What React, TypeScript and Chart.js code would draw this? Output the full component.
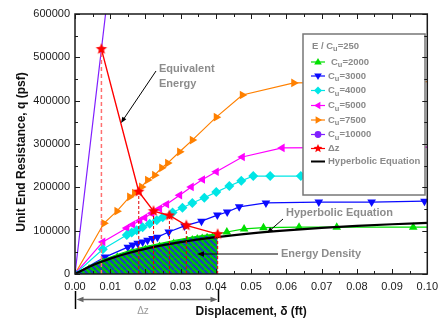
import React, { useEffect, useRef } from "react";
import { Chart, registerables } from "chart.js";

Chart.register(...registerables);

const FONT = '"Liberation Sans", Arial, Helvetica, sans-serif';

// ---------- data ----------
const cu2000X = [0, 0.004, 0.008, 0.012, 0.016, 0.02, 0.024, 0.028, 0.0319, 0.0333, 0.0347, 0.0361, 0.0375, 0.039, 0.0405, 0.0431, 0.048, 0.0535, 0.0636, 0.0743, 0.096, 0.105];
const cu2000Y = [0, 18000, 33000, 45000, 55000, 63000, 70000, 77000, 83000, 85000, 87000, 88500, 90000, 91000, 92000, 97000, 104000, 107000, 108000, 108000, 108000, 108000];

const cu3000X = [0, 0.0085, 0.015, 0.0164, 0.0178, 0.0192, 0.0206, 0.022, 0.0234, 0.0266, 0.0311, 0.0359, 0.0404, 0.0432, 0.0466, 0.0542, 0.0692, 0.0842, 0.0992];
const cu3000Y = [0, 39000, 62000, 67000, 71000, 74000, 78000, 82000, 85000, 97000, 111000, 122000, 136000, 143000, 155000, 164000, 166000, 166000, 168000];

const cu4000X = [0, 0.0079, 0.0147, 0.0161, 0.0175, 0.0192, 0.0212, 0.0232, 0.0249, 0.0277, 0.0305, 0.0333, 0.0367, 0.0401, 0.0438, 0.0472, 0.0506, 0.0554, 0.0641];
const cu4000Y = [0, 57000, 90000, 96000, 101000, 108000, 116000, 124000, 131000, 142000, 153000, 164000, 176000, 189000, 203000, 215000, 226000, 226000, 226000];

const cu5000X = [0, 0.0079, 0.0147, 0.0164, 0.0184, 0.0198, 0.0218, 0.024, 0.026, 0.0297, 0.033, 0.0362, 0.0401, 0.0475, 0.0588, 0.105];
const cu5000Y = [0, 74000, 106000, 114000, 123000, 130000, 140000, 151000, 161000, 182000, 201000, 218000, 236000, 270000, 291000, 293000];

const cu7500X = [0, 0.0082, 0.0119, 0.0155, 0.0169, 0.0189, 0.0206, 0.0226, 0.0246, 0.0263, 0.0297, 0.0333, 0.0401, 0.0475, 0.0621, 0.105];
const cu7500Y = [0, 117000, 145000, 178000, 187000, 201000, 217000, 228000, 245000, 256000, 282000, 309000, 362000, 413000, 441000, 444000];

const cu10000X = [0, 0.0075, 0.012];
const cu10000Y = [0, 519000, 830000];

const dzX = [0.0075, 0.0181, 0.0223, 0.0268, 0.0316, 0.0405];
const dzY = [519000, 190000, 145000, 135000, 112000, 92000];

const hypX = [0, 0.0025, 0.005, 0.0075, 0.01, 0.015, 0.02, 0.025, 0.03, 0.04, 0.05, 0.06, 0.07, 0.08, 0.09, 0.1];
const hypY = [0, 10600, 20000, 28200, 35500, 47900, 58000, 66500, 73600, 85000, 93800, 100700, 106300, 110900, 114800, 118000];

const legendCu = ["2000", "3000", "4000", "5000", "7500", "10000"];
const legendEu = "250";

const xMin = 0, xMax = 0.1, xStep = 0.01;
const yMin = 0, yMax = 600000, yStep = 100000;

// ---------- styles ----------
const C_GREEN = "#00e000";
const C_BLUE = "#0a0aff";
const C_CYAN = "#00e6e6";
const C_MAG = "#ff00ff";
const C_ORANGE = "#ff8000";
const C_PURPLE = "#8020ff";
const C_RED = "#ff0000";

function makeHatch(): CanvasPattern | string {
  const s = 6;
  const c = document.createElement("canvas");
  c.width = s; c.height = s;
  const g = c.getContext("2d")!;
  g.fillStyle = "#00c800";
  g.fillRect(0, 0, s, s);
  g.strokeStyle = "#1c3cc0";
  g.lineWidth = 2;
  for (const k of [-s, 0, s]) {
    g.beginPath();
    g.moveTo(k, 0);
    g.lineTo(k + s, s);
    g.stroke();
  }
  return g.createPattern(c, "repeat") || "#00c800";
}

function starPath(ctx: CanvasRenderingContext2D, cx: number, cy: number, r: number) {
  ctx.beginPath();
  for (let i = 0; i < 10; i++) {
    const rr = i % 2 === 0 ? r : r * 0.45;
    const a = -Math.PI / 2 + (i * Math.PI) / 5;
    const px = cx + rr * Math.cos(a), py = cy + rr * Math.sin(a);
    if (i === 0) ctx.moveTo(px, py); else ctx.lineTo(px, py);
  }
  ctx.closePath();
}

function makeStar(color: string, r: number) {
  const s = Math.ceil(r * 2 + 2);
  const c = document.createElement("canvas");
  c.width = s; c.height = s;
  const g = c.getContext("2d")!;
  g.fillStyle = color;
  starPath(g, s / 2, s / 2, r);
  g.fill();
  return c;
}

function drawMarker(ctx: CanvasRenderingContext2D, kind: string, x: number, y: number, r: number, color: string) {
  ctx.save();
  ctx.fillStyle = color;
  ctx.translate(x, y);
  if (kind === "circle") {
    ctx.beginPath(); ctx.arc(0, 0, r * 0.85, 0, Math.PI * 2); ctx.fill();
  } else if (kind === "diamond") {
    ctx.beginPath(); ctx.moveTo(0, -r); ctx.lineTo(r, 0); ctx.lineTo(0, r); ctx.lineTo(-r, 0); ctx.closePath(); ctx.fill();
  } else if (kind === "star") {
    starPath(ctx, 0, 0, r * 1.15); ctx.fill();
  } else {
    const rot = kind === "down" ? Math.PI : kind === "left" ? -Math.PI / 2 : kind === "right" ? Math.PI / 2 : 0;
    ctx.rotate(rot);
    ctx.beginPath();
    ctx.moveTo(0, -r);
    ctx.lineTo(r * 0.95, r * 0.6);
    ctx.lineTo(-r * 0.95, r * 0.6);
    ctx.closePath();
    ctx.fill();
  }
  ctx.restore();
}

function arrow(ctx: CanvasRenderingContext2D, x1: number, y1: number, x2: number, y2: number, color: string, lw = 1, head = 6) {
  const a = Math.atan2(y2 - y1, x2 - x1);
  ctx.save();
  ctx.strokeStyle = color; ctx.fillStyle = color; ctx.lineWidth = lw;
  ctx.beginPath(); ctx.moveTo(x1, y1); ctx.lineTo(x2 - Math.cos(a) * head * 0.6, y2 - Math.sin(a) * head * 0.6); ctx.stroke();
  ctx.beginPath();
  ctx.moveTo(x2, y2);
  ctx.lineTo(x2 - head * Math.cos(a) + (head * 0.4) * Math.sin(a), y2 - head * Math.sin(a) - (head * 0.4) * Math.cos(a));
  ctx.lineTo(x2 - head * Math.cos(a) - (head * 0.4) * Math.sin(a), y2 - head * Math.sin(a) + (head * 0.4) * Math.cos(a));
  ctx.closePath(); ctx.fill();
  ctx.restore();
}

function subText(ctx: CanvasRenderingContext2D, x: number, y: number, pre: string, sub: string, post: string, size: number, color: string) {
  ctx.save();
  ctx.fillStyle = color;
  ctx.textBaseline = "middle";
  ctx.textAlign = "left";
  ctx.font = `bold ${size}px ${FONT}`;
  ctx.fillText(pre, x, y);
  x += ctx.measureText(pre).width;
  ctx.font = `bold ${size * 0.78}px ${FONT}`;
  ctx.fillText(sub, x, y + 3);
  x += ctx.measureText(sub).width;
  ctx.font = `bold ${size}px ${FONT}`;
  ctx.fillText(post, x, y);
  ctx.restore();
}

const overlay = {
  id: "overlay",
  afterDatasetsDraw(chart: any) {
    const { ctx, chartArea: a, scales } = chart;
    const xs = scales.x, ys = scales.y;
    ctx.save();

    // legend box
    const L = { x: 303, y: 34, w: 122, h: 161 };
    ctx.fillStyle = "#ffffff";
    ctx.fillRect(L.x, L.y, L.w, L.h);
    ctx.strokeStyle = "#777777";
    ctx.lineWidth = 1.5;
    ctx.strokeRect(L.x, L.y, L.w, L.h);
    const gray = "#8a8a8a";
    subText(ctx, 312, 46, "E / C", "u", "=" + legendEu, 9.5, gray);
    const rows = [62, 76, 90.5, 105.5, 120, 134.5];
    const kinds = ["up", "down", "diamond", "left", "right", "circle"];
    const cols = [C_GREEN, C_BLUE, C_CYAN, C_MAG, C_ORANGE, C_PURPLE];
    for (let i = 0; i < legendCu.length; i++) {
      const yy = rows[i];
      ctx.strokeStyle = cols[i]; ctx.lineWidth = 1.2;
      ctx.beginPath(); ctx.moveTo(311, yy); ctx.lineTo(325, yy); ctx.stroke();
      drawMarker(ctx, kinds[i], 318, yy, 4, cols[i]);
      subText(ctx, i === 0 ? 331 : 328, yy, "C", "u", "=" + legendCu[i], 9.5, gray);
    }
    // Δz row
    ctx.strokeStyle = C_RED; ctx.lineWidth = 1.2;
    ctx.beginPath(); ctx.moveTo(311, 148.5); ctx.lineTo(325, 148.5); ctx.stroke();
    drawMarker(ctx, "star", 318, 148.5, 4, C_RED);
    ctx.fillStyle = gray; ctx.font = `bold 9.5px ${FONT}`; ctx.textBaseline = "middle"; ctx.textAlign = "left";
    ctx.fillText("\u0394z", 328, 148.5);
    // hyperbolic row
    ctx.strokeStyle = "#000"; ctx.lineWidth = 2;
    ctx.beginPath(); ctx.moveTo(311, 161.5); ctx.lineTo(325, 161.5); ctx.stroke();
    ctx.fillText("Hyperbolic Equation", 328, 161.5);

    // frame
    ctx.strokeStyle = "#1a1a1a";
    ctx.lineWidth = 1.5;
    ctx.strokeRect(a.left, a.top, a.right - a.left, a.bottom - a.top);
    // inward ticks
    ctx.lineWidth = 1;
    const nx = Math.round((xMax - xMin) / (xStep / 2));
    for (let i = 0; i <= nx; i++) {
      const v = xMin + (i * xStep) / 2;
      const px = Math.round(xs.getPixelForValue(v)) + 0.5;
      const len = i % 2 === 0 ? 5 : 3;
      ctx.beginPath();
      ctx.moveTo(px, a.bottom); ctx.lineTo(px, a.bottom - len);
      ctx.moveTo(px, a.top); ctx.lineTo(px, a.top + len);
      ctx.stroke();
    }
    const ny = Math.round((yMax - yMin) / (yStep / 2));
    for (let i = 0; i <= ny; i++) {
      const v = yMin + (i * yStep) / 2;
      const py = Math.round(ys.getPixelForValue(v)) + 0.5;
      const len = i % 2 === 0 ? 5 : 3;
      ctx.beginPath();
      ctx.moveTo(a.left, py); ctx.lineTo(a.left + len, py);
      ctx.moveTo(a.right, py); ctx.lineTo(a.right - len, py);
      ctx.stroke();
    }

    // annotations
    ctx.fillStyle = "#8c8c8c";
    ctx.font = `bold 11px ${FONT}`;
    ctx.textAlign = "left";
    ctx.textBaseline = "middle";
    ctx.fillText("Equivalent", 159, 69);
    ctx.fillText("Energy", 159, 84);
    arrow(ctx, 156, 71, 121, 123, "#000", 1, 6);
    ctx.fillStyle = "#8c8c8c";
    ctx.fillText("Hyperbolic Equation", 286, 213);
    arrow(ctx, 283, 219, 267, 233, "#000", 1, 6);
    ctx.fillStyle = "#8c8c8c";
    ctx.fillText("Energy Density", 281, 254);
    arrow(ctx, 278, 254, 197, 254, "#000", 1, 7);

    // Δz dimension below axis
    const x0 = Math.round(xs.getPixelForValue(0)) + 0.5;
    const x1 = Math.round(xs.getPixelForValue(dzX[dzX.length - 1])) + 0.5;
    ctx.strokeStyle = "#000"; ctx.lineWidth = 1.5;
    ctx.beginPath(); ctx.moveTo(x0, 291); ctx.lineTo(x0, 309); ctx.stroke();
    ctx.beginPath(); ctx.moveTo(x1, 289); ctx.lineTo(x1, 302); ctx.stroke();
    arrow(ctx, (x0 + x1) / 2, 299.5, x0 + 1, 299.5, "#666", 1.5, 7);
    arrow(ctx, (x0 + x1) / 2, 299.5, x1 - 1, 299.5, "#666", 1.5, 7);
    ctx.fillStyle = "#9a9a9a";
    ctx.font = `10px ${FONT}`;
    ctx.textAlign = "center";
    ctx.fillText("\u0394z", 143, 311);

    // axis titles
    ctx.fillStyle = "#111";
    ctx.font = `bold 12px ${FONT}`;
    ctx.textAlign = "center";
    ctx.textBaseline = "middle";
    ctx.fillText("Displacement, \u03b4 (ft)", (a.left + a.right) / 2, 312);
    ctx.save();
    ctx.translate(22, 152);
    ctx.rotate(-Math.PI / 2);
    ctx.fillText("Unit End Resistance, q (psf)", 0, 0);
    ctx.restore();

    ctx.restore();
  },
};

export default function App() {
  const ref = useRef<HTMLCanvasElement>(null);
  useEffect(() => {
    document.body.style.margin = "0";
    const canvas = ref.current!;
    const hatch = makeHatch();
    const star = makeStar(C_RED, 6);
    const pts = (xs: number[], ys: number[]) => xs.map((x, i) => ({ x, y: ys[i] }));
    const series = (label: string, xs: number[], ys: number[], color: string, style: any, rotation: number, order: number, extra: any = {}) => ({
      label,
      data: pts(xs, ys),
      borderColor: color,
      backgroundColor: color,
      pointBackgroundColor: color,
      pointBorderColor: color,
      pointStyle: style,
      rotation,
      pointRadius: 5,
      pointBorderWidth: 0,
      borderWidth: 1.2,
      fill: false,
      tension: 0,
      order,
      ...extra,
    });

    const greenHatchN = cu2000X.findIndex((v) => v >= dzX[dzX.length - 1]) + 1;
    const datasets: any[] = [
      {
        label: "hatch",
        data: pts(cu2000X.slice(0, greenHatchN), cu2000Y.slice(0, greenHatchN)),
        borderWidth: 0,
        borderColor: "rgba(0,0,0,0)",
        backgroundColor: hatch,
        fill: "origin",
        pointRadius: 0,
        order: 50,
      },
      series("Cu=2000", cu2000X, cu2000Y, C_GREEN, "triangle", 0, 6, {
        pointRadius: (c: any) => (c.raw && c.raw.x < 0.042 ? 2.2 : 5),
      }),
      series("Cu=3000", cu3000X, cu3000Y, C_BLUE, "triangle", 180, 7),
      series("Cu=4000", cu4000X, cu4000Y, C_CYAN, "rectRot", 0, 8),
      series("Cu=5000", cu5000X, cu5000Y, C_MAG, "triangle", 270, 9),
      series("Cu=7500", cu7500X, cu7500Y, C_ORANGE, "triangle", 90, 10),
      series("Cu=10000", cu10000X, cu10000Y, C_PURPLE, "circle", 0, 11, { pointRadius: 0 }),
      series("Hyperbolic Equation", hypX, hypY, "#000000", "line", 0, 5, {
        pointRadius: 0,
        borderWidth: 2.2,
        cubicInterpolationMode: "monotone",
      }),
    ];
    dzX.forEach((x, i) => {
      datasets.push({
        label: "dz-line-" + i,
        data: [{ x, y: 0 }, { x, y: dzY[i] }],
        borderColor: i === 0 ? "#ff7070" : "#e00000",
        borderWidth: i === 0 ? 1.5 : 1,
        borderDash: i === 0 ? [4, 3] : [3, 2],
        pointRadius: 0,
        fill: false,
        order: 4,
      });
    });
    datasets.push(
      series("\u0394z", dzX, dzY, C_RED, star, 0, 1, { borderWidth: 1.4, pointRadius: 6 })
    );

    const chart = new Chart(canvas, {
      type: "line",
      data: { datasets },
      options: {
        animation: false,
        responsive: false,
        maintainAspectRatio: false,
        devicePixelRatio: 1,
        layout: { padding: { left: 0, right: 15, top: 14, bottom: 0 } },
        plugins: { legend: { display: false }, tooltip: { enabled: false } },
        scales: {
          x: {
            type: "linear",
            min: xMin,
            max: xMax,
            grid: { display: false, drawTicks: false },
            border: { display: false },
            ticks: {
              stepSize: xStep,
              autoSkip: false,
              maxRotation: 0,
              padding: 6,
              color: "#1a1a1a",
              font: { family: FONT, size: 11 },
              callback: (v: any) => Number(v).toFixed(2),
            },
            afterFit: (s: any) => { s.height = 47; },
          },
          y: {
            type: "linear",
            min: yMin,
            max: yMax,
            grid: { display: false, drawTicks: false },
            border: { display: false },
            ticks: {
              stepSize: yStep,
              autoSkip: false,
              padding: 5,
              color: "#1a1a1a",
              font: { family: FONT, size: 11 },
              callback: (v: any) => String(Math.round(Number(v))),
            },
            afterFit: (s: any) => { s.width = 75; },
          },
        },
      } as any,
      plugins: [overlay],
    });
    return () => chart.destroy();
  }, []);

  return (
    <div style={{ width: 438, height: 321, overflow: "hidden", position: "relative", background: "#fff" }}>
      <canvas ref={ref} width={444} height={321} style={{ display: "block" }} />
    </div>
  );
}
